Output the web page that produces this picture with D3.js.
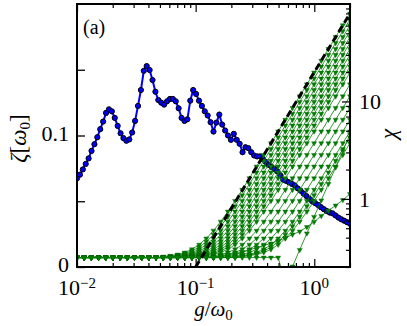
<!DOCTYPE html>
<html>
<head>
<meta charset="utf-8">
<script src="https://cdn.jsdelivr.net/npm/d3@7"></script>
<style>
  html, body { margin: 0; padding: 0; background: #fff; }
  svg { display: block; }
</style>
</head>
<body>
<svg id="chart"></svg>
<script>
// coupling range g/omega_0 shared by both series (log-spaced samples)
const gExtent = [0.01, 2];

// zeta [omega_0], 95 samples across gExtent
const zeta = [
  0.0674, 0.0702, 0.0742, 0.0784, 0.0826, 0.0883, 0.0934, 0.0987, 0.1048, 0.1106,
  0.1172, 0.1199, 0.1184, 0.1134, 0.1073, 0.1017, 0.0980, 0.0960, 0.0970, 0.1023,
  0.1111, 0.1225, 0.1346, 0.1492, 0.1528, 0.1498, 0.1422, 0.1333, 0.1270, 0.1250,
  0.1235, 0.1260, 0.1278, 0.1278, 0.1260, 0.1207, 0.1134, 0.1111, 0.1123, 0.1265,
  0.1346, 0.1316, 0.1265, 0.1225, 0.1184, 0.1152, 0.1101, 0.1030, 0.1098, 0.1159,
  0.1083, 0.1038, 0.1000, 0.0967, 0.1013, 0.0967, 0.0937, 0.0873, 0.0911, 0.0904,
  0.0873, 0.0848, 0.0841, 0.0841, 0.0822, 0.0799, 0.0777, 0.0761, 0.0746, 0.0727,
  0.0697, 0.0664, 0.0655, 0.0644, 0.0632, 0.0620, 0.0598, 0.0580, 0.0559, 0.0539,
  0.0519, 0.0500, 0.0486, 0.0472, 0.0455, 0.0440, 0.0426, 0.0414, 0.0408, 0.0392,
  0.0376, 0.0363, 0.0352, 0.0341, 0.0329
];

// chi curves, 39 samples across gExtent. Each curve sits on the flat floor
// (chiFlat) up to sample `start`, then takes the listed values.
const chiSamples = 39;
const chiFlat = 0.25;
const chiCurves = [
  [12, [0.256,0.261,0.269,0.282,0.304,0.339,0.393,0.472,0.584,0.741,0.955,1.24,1.63,2.15,2.83,3.73,4.93,6.5,8.59,11.3,15,19.8,26.2,34.6,45.8,60.5,80]],
  [13, [0.258,0.264,0.275,0.292,0.320,0.363,0.429,0.523,0.656,0.840,1.09,1.42,1.87,2.46,3.25,4.28,5.66,7.48,9.88,13.1,17.2,22.8,30.1,39.8,52.7,69.6]],
  [13, [0.256,0.261,0.269,0.282,0.304,0.339,0.393,0.472,0.584,0.741,0.955,1.24,1.63,2.15,2.83,3.73,4.93,6.5,8.59,11.3,15,19.8,26.2,34.6,45.8,60.5]],
  [14, [0.258,0.264,0.275,0.292,0.320,0.363,0.429,0.523,0.656,0.840,1.09,1.42,1.87,2.46,3.25,4.28,5.66,7.48,9.88,13.1,17.2,22.8,30.1,39.8,52.7]],
  [14, [0.256,0.261,0.269,0.282,0.304,0.339,0.393,0.472,0.584,0.741,0.955,1.24,1.63,2.15,2.83,3.73,4.93,6.5,8.59,11.3,15,19.8,26.2,34.6,45.8]],
  [15, [0.258,0.264,0.275,0.292,0.320,0.363,0.429,0.523,0.656,0.840,1.09,1.42,1.87,2.46,3.25,4.28,5.66,7.48,9.88,13.1,17.2,22.8,30.1,39.8]],
  [15, [0.256,0.261,0.269,0.282,0.304,0.339,0.393,0.472,0.584,0.741,0.955,1.24,1.63,2.15,2.83,3.73,4.93,6.5,8.59,11.3,15,19.8,26.2,34.6]],
  [16, [0.258,0.264,0.275,0.292,0.320,0.363,0.429,0.523,0.656,0.840,1.09,1.42,1.87,2.46,3.25,4.28,5.66,7.48,9.88,13.1,17.2,22.8,30.1]],
  [16, [0.256,0.261,0.269,0.282,0.304,0.339,0.393,0.472,0.584,0.741,0.955,1.24,1.63,2.15,2.83,3.73,4.93,6.5,8.59,11.3,15,19.8,26.2]],
  [17, [0.258,0.264,0.275,0.292,0.320,0.363,0.429,0.523,0.656,0.840,1.09,1.42,1.87,2.46,3.25,4.28,5.66,7.48,9.88,13.1,17.2,22.8]],
  [17, [0.256,0.261,0.269,0.282,0.304,0.339,0.393,0.472,0.584,0.741,0.955,1.24,1.63,2.15,2.83,3.73,4.93,6.5,8.59,11.3,15,19.8]],
  [18, [0.256,0.261,0.269,0.282,0.304,0.339,0.393,0.472,0.584,0.741,0.955,1.24,1.63,2.15,2.83,3.73,4.93,6.5,8.59,11.3,15]],
  [19, [0.256,0.261,0.269,0.282,0.304,0.339,0.393,0.472,0.584,0.741,0.955,1.24,1.63,2.15,2.83,3.73,4.93,6.5,8.59,11.3]],
  [20, [0.256,0.261,0.269,0.282,0.304,0.339,0.393,0.472,0.584,0.741,0.955,1.24,1.63,2.15,2.83,3.73,4.93,6.5,8.59]],
  [21, [0.256,0.261,0.269,0.282,0.304,0.339,0.393,0.472,0.584,0.741,0.955,1.24,1.63,2.15,2.83,3.73,4.93,6.5]],
  [22, [0.256,0.261,0.269,0.282,0.304,0.339,0.393,0.472,0.584,0.741,0.955,1.24,1.63,2.15,2.83,3.73,4.93]],
  [23, [0.258,0.264,0.275,0.292,0.320,0.363,0.429,0.523,0.656,0.840,1.09,1.42,1.87,2.46,3.25,4.28]],
  [23, [0.256,0.261,0.269,0.282,0.304,0.339,0.393,0.472,0.584,0.741,0.955,1.24,1.63,2.15,2.83,3.73]],
  [20, [0.26,0.267,0.275,0.285,0.299,0.317,0.333,0.349,0.370,0.397,0.431,0.463,0.515,0.580,0.668,0.760,0.856,0.975,1.124]],
  [29, [0.137,0.203,0.300,0.443,0.654,0.966,1.43,2.11,3.11,4.60]]
];

// dashed guide line, end points (g, chi)
const guideG = [0.1, 2];
const guideChi = [0.2, 80];

// ticks and labels
const zetaTicks = [0, 0.05, 0.1, 0.15];
const zetaLabelled = { 0: "0", 0.1: "0.1" };
const gMajor = [0.01, 0.1, 1];
const gExp = ["\u22122", "\u22121", "0"];
const chiMajor = [1, 10];
const chiLabels = ["1", "10"];

const W = 407, H = 326;
const plot = { left: 77, right: 350, top: 4, bottom: 267 };
const serif = '"Liberation Serif", "DejaVu Serif", serif';

const svg = d3.select("#chart")
    .attr("width", W).attr("height", H)
    .style("font-family", serif);

const x = d3.scaleLog().domain(gExtent).range([plot.left, plot.right]);
const yZeta = d3.scaleLinear().domain([0, 0.2]).range([plot.bottom, plot.top]);
const yChi = d3.scaleLog().domain([0.2, 100]).range([plot.bottom, plot.top]);

svg.append("defs").append("clipPath").attr("id", "clip")
    .append("rect")
    .attr("x", plot.left).attr("y", plot.top)
    .attr("width", plot.right - plot.left)
    .attr("height", plot.bottom - plot.top);

const logGrid = n => d3.range(n).map(i =>
    gExtent[0] * Math.pow(gExtent[1] / gExtent[0], i / (n - 1)));

// ---- zeta (left axis) ----
const gZeta = logGrid(zeta.length);
const zetaPts = zeta.map((v, i) => ({ g: gZeta[i], v }));
const lay1 = svg.append("g").attr("clip-path", "url(#clip)");

lay1.append("path")
    .datum(zetaPts)
    .attr("fill", "none")
    .attr("stroke", "#0000ff")
    .attr("stroke-width", 2)
    .attr("d", d3.line().x(d => x(d.g)).y(d => yZeta(d.v)));

lay1.selectAll("circle")
    .data(zetaPts)
    .join("circle")
    .attr("cx", d => x(d.g))
    .attr("cy", d => yZeta(d.v))
    .attr("r", 2.6)
    .attr("fill", "#0000ff")
    .attr("stroke", "#000")
    .attr("stroke-width", 1);

// left ticks (inward)
svg.append("g")
    .attr("transform", `translate(${plot.left},0)`)
    .call(d3.axisLeft(yZeta).tickValues(zetaTicks).tickSize(-8).tickPadding(8)
        .tickFormat(d => zetaLabelled[d] || ""))
    .call(g => g.select(".domain").remove())
    .call(g => g.selectAll("line").attr("stroke", "#000").attr("stroke-width", 1.3))
    .call(g => g.selectAll("text")
        .style("font-family", serif)
        .attr("font-size", 22)
        .attr("fill", "#000")
        .attr("dy", "0.22em"));

// ---- chi (right axis) ----
const gChi = logGrid(chiSamples);
const lay2 = svg.append("g").attr("clip-path", "url(#clip)");
const tri = d3.symbol().type(d3.symbolTriangle).size(11);

chiCurves.forEach(([start, vals]) => {
    const pts = gChi.map((g, j) => ({ g, c: j < start ? chiFlat : vals[j - start] }));
    lay2.append("path")
        .datum(pts)
        .attr("fill", "none")
        .attr("stroke", "#008000")
        .attr("stroke-width", 0.8)
        .attr("d", d3.line().x(d => x(d.g)).y(d => yChi(d.c)));
    lay2.append("g").selectAll("path")
        .data(pts)
        .join("path")
        .attr("d", tri)
        .attr("transform", d => `translate(${x(d.g)},${yChi(d.c)}) rotate(180)`)
        .attr("fill", "#008000")
        .attr("stroke", "#006400")
        .attr("stroke-width", 0.4);
});

lay2.append("line")
    .attr("x1", x(guideG[0])).attr("y1", yChi(guideChi[0]))
    .attr("x2", x(guideG[1])).attr("y2", yChi(guideChi[1]))
    .attr("stroke", "#000")
    .attr("stroke-width", 3)
    .attr("stroke-dasharray", "7,4");

// x ticks, bottom and top (inward)
const gMinor = x.ticks().filter(t => !gMajor.includes(t));
[[plot.bottom, d3.axisBottom], [plot.top, d3.axisTop]].forEach(([y0, ax]) => {
    [[gMajor, -8], [gMinor, -4]].forEach(([vals, size]) => {
        svg.append("g")
            .attr("transform", `translate(0,${y0})`)
            .call(ax(x).tickValues(vals).tickSize(size).tickFormat(""))
            .call(g => g.select(".domain").remove())
            .call(g => g.selectAll("line").attr("stroke", "#000").attr("stroke-width", 1.2));
    });
});

// right ticks (inward)
const chiMinor = yChi.ticks().filter(t => !chiMajor.includes(t) && t < 100);
[[chiMajor, -8], [chiMinor, -4]].forEach(([vals, size]) => {
    svg.append("g")
        .attr("transform", `translate(${plot.right},0)`)
        .call(d3.axisRight(yChi).tickValues(vals).tickSize(size).tickFormat(""))
        .call(g => g.select(".domain").remove())
        .call(g => g.selectAll("line").attr("stroke", "#000").attr("stroke-width", 1.2));
});

// frame
svg.append("rect")
    .attr("x", plot.left).attr("y", plot.top)
    .attr("width", plot.right - plot.left)
    .attr("height", plot.bottom - plot.top)
    .attr("fill", "none")
    .attr("stroke", "#000")
    .attr("stroke-width", 2);

// x tick labels 10^n
svg.append("g").selectAll("text")
    .data(gMajor)
    .join("text")
    .attr("x", d => x(d))
    .attr("y", 295)
    .attr("text-anchor", "middle")
    .attr("font-size", 22)
    .each(function (d, i) {
        const t = d3.select(this);
        t.append("tspan").text("10");
        t.append("tspan").attr("dy", -7).attr("font-size", 15).text(gExp[i]);
    });

// right tick labels
svg.append("g").selectAll("text")
    .data(chiMajor)
    .join("text")
    .attr("x", 359)
    .attr("y", d => yChi(d) + 8)
    .attr("font-size", 22)
    .text((d, i) => chiLabels[i]);

// axis titles
const xt = svg.append("text")
    .attr("x", (plot.left + plot.right) / 2)
    .attr("y", 316)
    .attr("text-anchor", "middle")
    .attr("font-size", 21);
xt.append("tspan").attr("font-style", "italic").text("g");
xt.append("tspan").text("/");
xt.append("tspan").attr("font-style", "italic").text("\u03c9");
xt.append("tspan").attr("font-size", 15).attr("dy", 4).text("0");

const yt = svg.append("text")
    .attr("transform", `translate(26,${(plot.top + plot.bottom) / 2 + 3}) rotate(-90)`)
    .attr("text-anchor", "middle")
    .attr("font-size", 23);
yt.append("tspan").attr("font-style", "italic").text("\u03b6");
yt.append("tspan").text("[");
yt.append("tspan").attr("font-style", "italic").text("\u03c9");
yt.append("tspan").attr("font-size", 15).attr("dy", 4).text("0");
yt.append("tspan").attr("dy", -4).text("]");

svg.append("text")
    .attr("transform", `translate(396,134) rotate(-90)`)
    .attr("text-anchor", "middle")
    .attr("font-size", 23)
    .attr("font-style", "italic")
    .text("\u03c7");

// panel tag
svg.append("text")
    .attr("x", 83)
    .attr("y", 34)
    .attr("font-size", 20)
    .text("(a)");
</script>
</body>
</html>
